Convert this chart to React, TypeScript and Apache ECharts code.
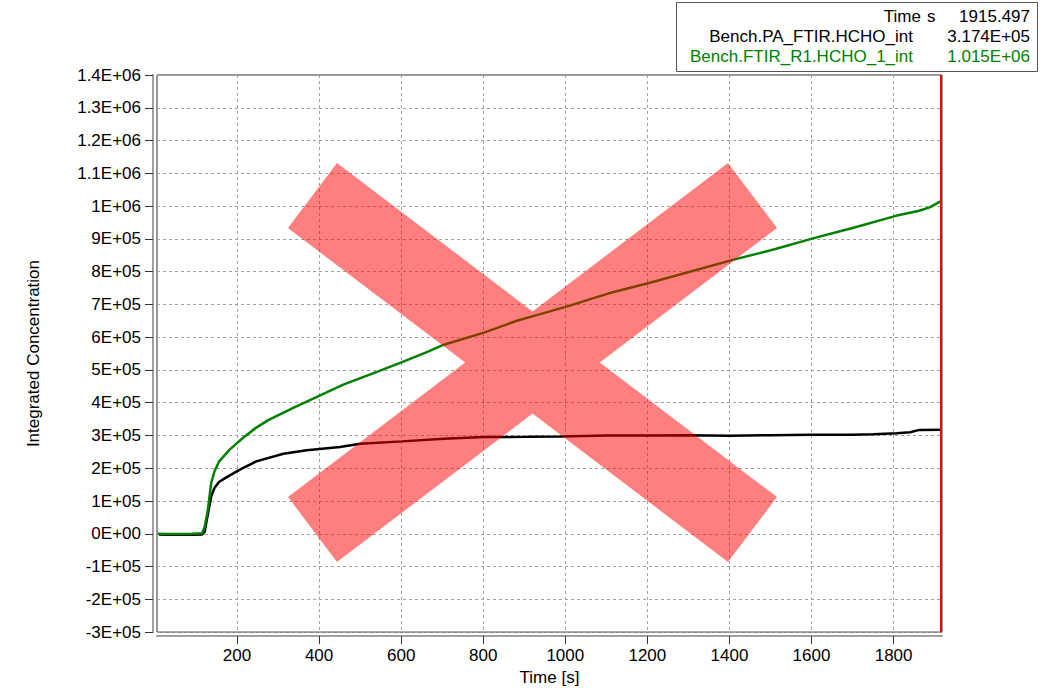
import React, { useEffect, useRef } from "react";
import * as echarts from "echarts";

const blackTimes = [10, 30, 60, 90, 115, 121, 126, 131, 137, 145, 156, 174, 207, 247, 313, 370, 451, 500, 602, 704, 802, 908, 990, 1100, 1200, 1300, 1400, 1500, 1600, 1700, 1750, 1808, 1840, 1863, 1915.5];
const blackValues = [-2000, -3000, -3000, -3000, -2000, 5000, 40000, 73000, 114000, 140000, 158000, 172000, 196000, 221000, 244000, 255000, 265000, 275000, 282000, 290000, 295000, 296000, 297000, 300000, 300000, 301000, 299000, 301000, 302000, 302000, 304000, 307000, 310000, 317000, 317400];

const greenTimes = [7, 30, 60, 90, 115, 121, 129, 137, 145, 156, 182, 215, 247, 276, 337, 400, 459, 541, 602, 664, 704, 802, 884, 941, 1005, 1104, 1206, 1308, 1406, 1512, 1608, 1700, 1808, 1860, 1888, 1915.5];
const greenValues = [0, -1000, -1000, 0, 2000, 20000, 73000, 155000, 190000, 220000, 257000, 293000, 324000, 347000, 384000, 421000, 455000, 494000, 524000, 555000, 577000, 614000, 651000, 671000, 694000, 733000, 766000, 801000, 835000, 869000, 903000, 933000, 971000, 985000, 996000, 1015000];

const xTickValues = [200, 400, 600, 800, 1000, 1200, 1400, 1600, 1800];
const cursorTime = 1915.497;

const legendRows = [
  { name: "Time", unit: "s", value: "1915.497", color: "#000000" },
  { name: "Bench.PA_FTIR.HCHO_int", unit: "", value: "3.174E+05", color: "#000000" },
  { name: "Bench.FTIR_R1.HCHO_1_int", unit: "", value: "1.015E+06", color: "#008000" },
];

const FONT = "'Liberation Sans', Arial, sans-serif";
const FS = 17;

function sci(v: number): string {
  if (Math.abs(v) < 1e-9) return "0E+00";
  const e = Math.floor(Math.log10(Math.abs(v)) + 1e-9);
  const m = Math.round((v / Math.pow(10, e)) * 10) / 10;
  const es = (e < 0 ? "-" : "+") + String(Math.abs(e)).padStart(2, "0");
  return String(m) + "E" + es;
}

const zip = (a: number[], b: number[]) => a.map((t, i) => [t, b[i]]);

export default function App() {
  const ref = useRef<HTMLDivElement>(null);
  useEffect(() => {
    if (!ref.current) return;
    const chart = echarts.init(ref.current, null, { renderer: "svg" });
    const legendGraphics: any[] = [
      {
        type: "rect",
        shape: { x: 676.5, y: 2.5, width: 361, height: 69 },
        style: { fill: "#ffffff", stroke: "#555555", lineWidth: 1 },
        z: 10,
      },
    ];
    const rowY = [16, 36, 56];
    legendRows.forEach((r, i) => {
      legendGraphics.push({
        type: "text",
        x: r.unit ? 921 : 913,
        y: rowY[i],
        style: { text: r.name, align: "right", verticalAlign: "middle", fill: r.color, font: `${FS}px ${FONT}` },
        z: 11,
      });
      if (r.unit) {
        legendGraphics.push({
          type: "text",
          x: 927,
          y: rowY[i],
          style: { text: r.unit, align: "left", verticalAlign: "middle", fill: r.color, font: `${FS}px ${FONT}` },
          z: 11,
        });
      }
      legendGraphics.push({
        type: "text",
        x: 1030,
        y: rowY[i],
        style: { text: r.value, align: "right", verticalAlign: "middle", fill: r.color, font: `${FS}px ${FONT}` },
        z: 11,
      });
    });
    const cross = {
      type: "polygon",
      shape: {
        points: [
          [288, 228], [337, 163], [532.5, 311.4], [728, 163], [777, 228], [599.8, 362.5],
          [777, 497], [728, 562], [532.5, 413.6], [337, 562], [288, 497], [465.2, 362.5],
        ],
      },
      style: { fill: "rgba(255,0,0,0.5)" },
      z: 20,
      silent: true,
    };
    chart.setOption({
      animation: false,
      backgroundColor: "#ffffff",
      textStyle: { fontFamily: FONT },
      grid: {
        left: 157,
        top: 75,
        width: 785,
        height: 558,
        show: true,
        borderColor: "#333333",
        borderWidth: 1,
        containLabel: false,
      },
      xAxis: {
        type: "value",
        min: 5,
        max: 1918,
        offset: 4,
        name: "Time [s]",
        nameLocation: "middle",
        nameGap: 31,
        nameTextStyle: { color: "#000", fontSize: FS, fontFamily: FONT },
        axisLine: { show: true, onZero: false, lineStyle: { color: "#a0a0a0", width: 2 } },
        axisTick: { show: true, length: 8, customValues: xTickValues, lineStyle: { color: "#333" } },
        axisLabel: { customValues: xTickValues, formatter: (v: number) => String(v), color: "#000", fontSize: FS, fontFamily: FONT, margin: 11 },
        splitLine: { show: true, lineStyle: { color: "#a0a0a0", type: [3, 3], width: 1 } },
      },
      yAxis: {
        type: "value",
        min: -300000,
        max: 1400000,
        interval: 100000,
        offset: 4,
        name: "Integrated Concentration",
        nameLocation: "middle",
        nameGap: 111,
        nameTextStyle: { color: "#000", fontSize: FS, fontFamily: FONT },
        axisLine: { show: true, lineStyle: { color: "#a0a0a0", width: 2 } },
        axisTick: { show: true, length: 8, lineStyle: { color: "#333" } },
        axisLabel: { formatter: (v: number) => sci(v), color: "#000", fontSize: FS, fontFamily: FONT, margin: 12 },
        splitLine: { show: true, lineStyle: { color: "#a0a0a0", type: [3, 3], width: 1 } },
      },
      series: [
        {
          type: "line",
          data: zip(blackTimes, blackValues),
          showSymbol: false,
          lineStyle: { color: "#000000", width: 2.5 },
          itemStyle: { color: "#000000" },
          silent: true,
        },
        {
          type: "line",
          data: zip(greenTimes, greenValues),
          showSymbol: false,
          lineStyle: { color: "#008000", width: 2.5 },
          itemStyle: { color: "#008000" },
          silent: true,
          markLine: {
            silent: true,
            symbol: "none",
            label: { show: false },
            lineStyle: { color: "#ff0000", width: 2, type: "solid" },
            data: [{ xAxis: cursorTime }],
          },
        },
      ],
      graphic: [...legendGraphics, cross],
    });
    return () => chart.dispose();
  }, []);
  return <div ref={ref} style={{ position: "absolute", left: 0, top: 0, width: 1043, height: 691 }} />;
}
